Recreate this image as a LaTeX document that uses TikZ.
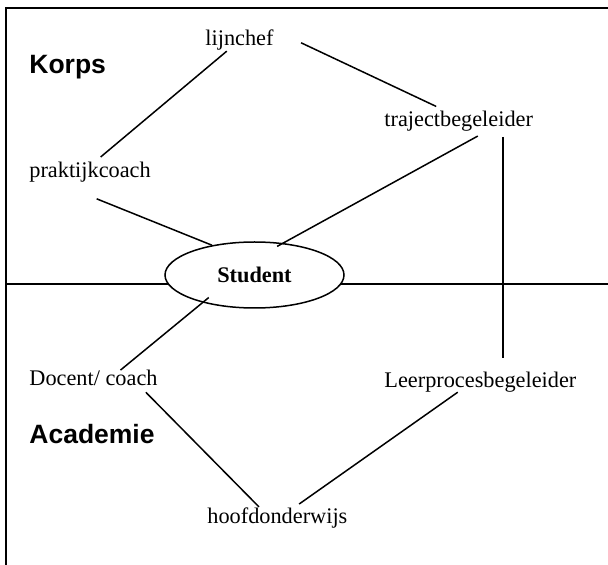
\documentclass[tikz,border=0pt]{standalone}
\usepackage{fontspec}
\setmainfont{Liberation Serif}
\setsansfont{Liberation Sans}
\usepackage{tikz}
\usetikzlibrary{shapes.geometric}

\begin{document}
\begin{tikzpicture}[x=0.5pt, y=-0.5pt,
    rol/.style={inner sep=0pt, anchor=base west, font=\fontsize{11.15}{13}\selectfont},
    side/.style={inner sep=0pt, anchor=base west, font=\sffamily\bfseries\fontsize{13.25}{15}\selectfont},
    link/.style={line width=0.75pt},
    boxline/.style={line width=1pt}]
  \useasboundingbox (0,0) rectangle (608,565);
  % frame
  \coordinate (cornerTL) at (6,8);
  \draw[boxline] (6,565) -- (cornerTL) -- (608,8);
  % student in the middle
  \node[ellipse, draw, line width=0.75pt, minimum width=89.5pt, minimum height=33pt,
        inner sep=0pt, font=\bfseries\fontsize{11.15}{13}\selectfont]
        (student) at (254.5,275) {Student\hspace{11pt}};
  % dividers
  \coordinate (divL) at (6,284);
  \coordinate (divR) at (608,284);
  \draw[link] (divL) -- (student.186 |- divL);
  \draw[link] (student.-6 |- divR) -- (divR);
  \coordinate (vTop) at (503,137);
  \coordinate (vBot) at (503,358);
  \draw[link] (vTop) -- (vBot);
  % sides
  \node[side] (korps) at (29,74) {Korps};
  \node[side] (academie) at (29,443) {Academie};
  % roles
  \node[rol] (lijnchef) at (205,46) {lijnchef};
  \node[rol] (traject) at (384,127) {trajectbegeleider};
  \node[rol] (praktijk) at (29,178) {praktijkcoach};
  \node[rol] (docent) at (29,386) {Docent/ coach};
  \node[rol] (leerproces) at (384,387) {Leerprocesbegeleider};
  \node[rol] (hoofd) at (207,523) {hoofdonderwijs};
  % links
  \draw[link, shorten >=4pt] (lijnchef.220) -- (praktijk.67);
  \draw[link, shorten <=15pt, shorten >=5.5pt] (lijnchef.17) -- (traject.140);
  \draw[link, shorten <=4pt, shorten >=-3.5pt] (traject.-22) -- (student.48);
  \draw[link, shorten <=21pt] (praktijk.198) -- (student.145);
  \draw[link, shorten <=-4pt] (student.208) -- (docent.17);
  \draw[link, shorten <=4pt] (docent.-10) -- (hoofd.150);
  \draw[link, shorten >=2.5pt] (leerproces.205) -- (hoofd.31);
\end{tikzpicture}
\end{document}
